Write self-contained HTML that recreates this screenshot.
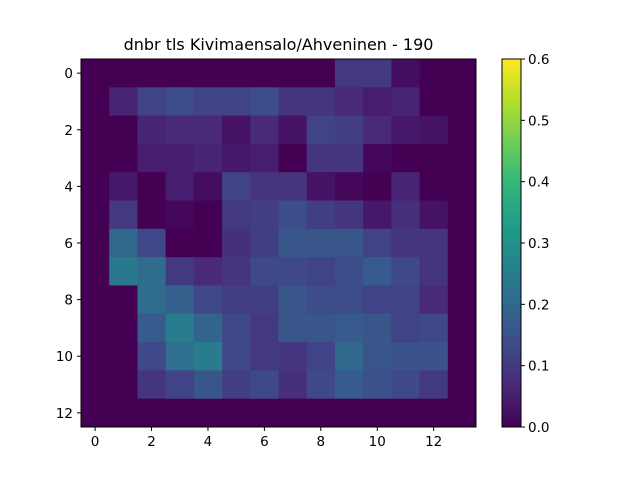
<!DOCTYPE html>
<html><head><meta charset="utf-8"><style>
body{margin:0;background:#fff;}
svg{display:block;font-family:"DejaVu Sans","Liberation Sans",sans-serif;}
</style></head><body>
<svg id="chart" width="640" height="480"></svg>
<script>
const rowLabels=[0,2,4,6,8,10,12];
const colLabels=[0,2,4,6,8,10,12];
const cbTicks=[0,0.1,0.2,0.3,0.4,0.5,0.6];
const row0=[0,0,0,0,0,0,0,0,0,0.1,0.1,0.02,0,0];
const row1=[0,0.06,0.12,0.14,0.12,0.12,0.14,0.09,0.09,0.07,0.05,0.06,0,0];
const row2=[0,0,0.06,0.07,0.07,0.03,0.07,0.03,0.12,0.11,0.07,0.04,0.03,0];
const row3=[0,0,0.05,0.05,0.06,0.04,0.05,0,0.09,0.09,0.01,0,0,0];
const row4=[0,0.04,0,0.05,0.02,0.12,0.09,0.09,0.03,0.01,0,0.06,0,0];
const row5=[0,0.1,0,0.01,0,0.1,0.11,0.14,0.11,0.09,0.04,0.08,0.03,0];
const row6=[0,0.2,0.13,0,0,0.08,0.11,0.16,0.16,0.16,0.12,0.09,0.09,0];
const row7=[0,0.24,0.21,0.1,0.07,0.09,0.13,0.13,0.12,0.14,0.17,0.13,0.09,0];
const row8=[0,0,0.21,0.18,0.13,0.11,0.11,0.16,0.14,0.14,0.12,0.12,0.07,0];
const row9=[0,0,0.17,0.25,0.19,0.13,0.1,0.16,0.16,0.17,0.16,0.12,0.13,0];
const row10=[0,0,0.13,0.22,0.25,0.13,0.1,0.09,0.12,0.2,0.16,0.15,0.15,0];
const row11=[0,0,0.09,0.12,0.16,0.11,0.13,0.08,0.13,0.17,0.15,0.13,0.1,0];
const row12=[0,0,0,0,0,0,0,0,0,0,0,0,0,0];
const grid=[row0,row1,row2,row3,row4,row5,row6,row7,row8,row9,row10,row11,row12];
const vmin=0,vmax=0.6;
const VIR=[[68,1,84],[72,40,120],[62,74,137],[49,104,142],[38,130,142],[31,158,137],[53,183,121],[110,206,88],[181,222,43],[253,231,37]];
function cmap(v){let t=Math.max(0,Math.min(1,(v-vmin)/(vmax-vmin)))*(VIR.length-1);let i=Math.min(Math.floor(t),VIR.length-2),f=t-i;const c=VIR[i].map((a,k)=>Math.round(a+(VIR[i+1][k]-a)*f));return `rgb(${c})`;}
const X0=81,X1=476,Y0=59,Y1=427;
const nC=grid[0].length,nR=grid.length;
const xs=c=>X0+(c+0.5)*(X1-X0)/nC;
const ys=r=>Y0+(r+0.5)*(Y1-Y0)/nR;
const cw=(X1-X0)/nC,ch=(Y1-Y0)/nR;
const cbX=502,cbW=19;
const cbY=v=>Y1-(v-vmin)/(vmax-vmin)*(Y1-Y0);
const svg=document.getElementById('chart');const NS='http://www.w3.org/2000/svg';
function mk(t,a,p){const e=document.createElementNS(NS,t);for(const k in a)e.setAttribute(k,a[k]);(p||svg).appendChild(e);return e;}
grid.forEach((row,r)=>row.forEach((v,c)=>{const e=mk('rect',{x:xs(c)-cw/2,y:ys(r)-ch/2,width:cw+0.5,height:ch+0.5,fill:cmap(v)});

}));
const fr=mk('rect',{x:X0,y:Y0,width:X1-X0,height:Y1-Y0,fill:'none',stroke:'#000','stroke-width':1});


colLabels.forEach(v=>{mk('line',{x1:xs(v),x2:xs(v),y1:Y1,y2:Y1+4,stroke:'#000'});const t=mk('text',{x:xs(v),y:Y1+19,'text-anchor':'middle','font-size':13.5});t.textContent=v;

});
rowLabels.forEach(v=>{mk('line',{x1:X0-4,x2:X0,y1:ys(v),y2:ys(v),stroke:'#000'});const t=mk('text',{x:X0-8,y:ys(v)+5,'text-anchor':'end','font-size':13.5});t.textContent=v;

});
const N=120;for(let i=0;i<N;i++){const v0=vmin+(vmax-vmin)*i/N,v1=vmin+(vmax-vmin)*(i+1)/N;mk('rect',{x:cbX,y:cbY(v1),width:cbW,height:cbY(v0)-cbY(v1)+0.5,fill:cmap((v0+v1)/2)});}
const cbf=mk('rect',{x:cbX,y:Y0,width:cbW,height:Y1-Y0,fill:'none',stroke:'#000'});


cbTicks.forEach(v=>{mk('line',{x1:cbX+cbW,x2:cbX+cbW+4,y1:cbY(v),y2:cbY(v),stroke:'#000'});const t=mk('text',{x:cbX+cbW+7,y:cbY(v)+5,'font-size':13.5});t.textContent=v.toFixed(1);

});
const ti=mk('text',{x:(X0+X1)/2,y:50,'text-anchor':'middle','font-size':16});ti.textContent='dnbr tls Kivimaensalo/Ahveninen - 190';


</script>
</body></html>
